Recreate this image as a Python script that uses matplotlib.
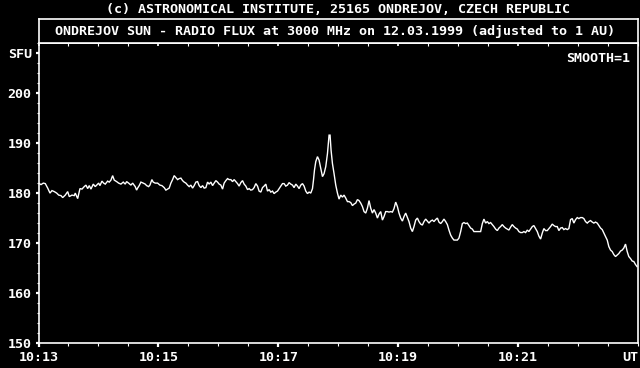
import matplotlib
matplotlib.use("Agg")
import matplotlib.pyplot as plt
from matplotlib.ticker import MultipleLocator, FixedLocator

# ---- data (seconds after 10:13:00 UT, flux in SFU) ----
seconds = [0, 2.5, 4.8, 6.8, 9.2, 11.5, 13.5, 15.8, 18.2, 20.2, 22.5, 24.2, 26.8, 29.2, 30.8,
           33.5, 35.8, 36.8, 39.2, 41.5, 43.5, 45.8, 47.5, 49.2, 50.8, 52.5, 54.8, 56.8, 58.2,
           60.2, 61.5, 63.5, 65.2, 66.8, 69.2, 70.8, 72.5, 74.2, 75.8, 78.2, 80.2, 82.5, 84.8,
           86.8, 88.2, 90.2, 92.5, 94.2, 96.8, 98.2, 99.2, 100.8, 102.5, 104.8, 106.8, 108.2,
           110.2, 111.5, 113.5, 114.8, 116.8, 119.2, 121.5, 123.5, 125.8, 127.5, 129.2, 130.8,
           132.5, 134.2, 135.8, 137.5, 139.2, 140.8, 142.5, 144.2, 145.8, 147.5, 149.2, 150.8,
           152.5, 154.2, 155.8, 157.5, 159.2, 160.8, 162.5, 164.2, 165.8, 167.5, 169.2, 170.8,
           172.5, 174.2, 175.8, 177.5, 179.2, 180.8, 182.5, 184.2, 185.8, 187.5, 189.2, 190.8,
           192.5, 194.2, 195.8, 197.5, 199.2, 200.8, 202.5, 204.2, 205.8, 207.5, 209.2, 210.8,
           212.5, 214.2, 215.8, 217.5, 219.2, 220.8, 222.5, 224.2, 225.8, 227.5, 229.2, 230.8,
           232.5, 234.2, 235.8, 237.5, 239.2, 240.8, 242.5, 244.2, 245.8, 247.5, 249.2, 250.8,
           252.5, 254.2, 255.8, 257.5, 259.2, 260.8, 262.5, 264.2, 265.8, 267.5, 269.2, 270.8,
           272.5, 274.2, 275.2, 276.2, 277.5, 279.2, 280.8, 282.5, 284.2, 285.8, 287.5, 289.2,
           290.8, 291.8, 292.8, 294.2, 295.8, 297.5, 299.2, 300.8, 302.5, 304.2, 305.8, 307.5,
           309.2, 310.8, 312.5, 314.2, 315.8, 317.5, 319.2, 320.8, 322.5, 324.2, 325.8, 327.5,
           329.2, 330.8, 332.5, 334.2, 335.8, 337.5, 339.2, 340.8, 342.5, 344.2, 345.8, 347.5,
           349.2, 350.8, 352.5, 354.2, 355.8, 357.5, 359.2, 360.8, 362.5, 364.2, 365.8, 367.5,
           369.2, 370.8, 372.5, 374.2, 375.8, 377.5, 379.2, 380.8, 382.5, 384.2, 385.8, 387.5,
           389.2, 390.8, 392.5, 394.2, 395.8, 397.5, 399.2, 400.8, 402.5, 404.2, 405.8, 407.5,
           409.2, 410.8, 412.5, 414.2, 415.8, 417.5, 419.2, 420.8, 422.5, 424.2, 425.8, 427.5,
           429.2, 430.8, 432.5, 434.2, 435.8, 437.5, 439.2, 440.8, 442.5, 444.2, 445.8, 447.5,
           449.2, 450.8, 452.5, 454.2, 455.8, 457.5, 459.2, 460.8, 462.5, 464.2, 465.8, 467.5,
           469.2, 470.8, 472.5, 474.2, 475.8, 477.5, 479.2, 480.8, 482.5, 484.2, 485.8, 487.5,
           489.2, 490.8, 492.5, 494.2, 495.8, 497.5, 499.2, 500.8, 502.5, 504.2, 505.8, 507.5,
           509.2, 510.8, 512.5, 514.2, 515.8, 517.5, 519.2, 520.8, 522.5, 524.2, 525.8, 527.5,
           529.2, 530.8, 532.5, 534.2, 535.8, 537.5, 539.2, 540.8, 542.5, 544.2, 545.8, 547.5,
           549.2, 550.8, 552.5, 554.2, 555.8, 557.5, 559.2, 560.8, 562.5, 564.2, 565.8, 567.5,
           569.2, 570.8, 572.5, 574.2, 575.8, 577.5, 579.2, 580.8, 582.5, 584.2, 585.8, 587.5,
           589.2, 590.8, 592.5, 594.2, 595.8, 597.5, 599.0]

sfu = [181.9, 181.6, 181.9, 181.8, 180.9, 179.9, 180.4, 180.2, 179.9, 179.5, 179.4, 179.0, 179.5,
       180.2, 179.2, 179.5, 179.4, 179.9, 178.8, 180.8, 180.7, 181.2, 181.5, 180.8, 181.4, 180.7,
       181.7, 181.2, 181.5, 181.9, 181.4, 182.3, 181.9, 181.7, 182.3, 182.1, 182.5, 183.4, 182.5,
       182.2, 181.9, 181.7, 182.1, 181.7, 182.2, 181.9, 181.5, 181.9, 181.2, 180.5, 180.9, 181.4,
       182.1, 181.9, 181.7, 181.4, 181.2, 181.5, 182.6, 182.1, 181.9, 181.9, 181.5, 181.4, 181.0,
       180.5, 180.7, 180.9, 181.9, 182.6, 183.4, 183.0, 182.6, 182.8, 182.9, 182.4, 182.1, 181.9,
       181.5, 181.2, 181.5, 180.9, 181.4, 182.1, 182.2, 181.4, 181.0, 181.4, 180.9, 181.0, 182.1,
       181.7, 182.1, 181.4, 181.9, 182.4, 182.1, 181.7, 181.5, 180.7, 181.9, 182.4, 182.8, 182.6,
       182.6, 182.2, 182.6, 182.2, 181.8, 181.3, 182.0, 182.4, 181.7, 181.3, 180.6, 180.8, 180.5,
       180.6, 181.0, 181.8, 181.3, 180.3, 180.1, 181.0, 181.3, 181.7, 180.3, 180.6, 180.1, 180.3,
       179.8, 180.1, 180.3, 180.8, 181.3, 181.8, 181.8, 181.3, 181.5, 182.0, 181.7, 181.5, 181.0,
       181.7, 181.3, 180.8, 181.5, 181.8, 181.3, 180.3, 179.8, 180.1, 179.9, 180.8, 182.5, 184.5,
       186.2, 187.2, 186.5, 184.9, 183.2, 183.8, 185.2, 187.8, 191.5, 191.5, 188.5, 185.8, 183.8,
       181.5, 179.9, 178.7, 179.5, 179.1, 179.5, 178.9, 178.2, 178.2, 178.0, 177.4, 177.7, 177.9,
       178.6, 178.4, 177.9, 177.2, 176.2, 175.9, 176.9, 178.4, 176.9, 175.9, 176.6, 175.9, 174.9,
       175.7, 176.2, 174.5, 175.2, 176.2, 176.2, 176.1, 176.2, 176.1, 176.8, 178.1, 177.2, 175.9,
       174.9, 174.3, 175.2, 175.9, 175.0, 174.2, 172.9, 172.2, 173.2, 174.5, 174.9, 174.2, 173.7,
       173.5, 174.2, 174.7, 174.3, 173.9, 174.3, 174.5, 174.2, 174.6, 174.9, 174.1, 173.8, 174.2,
       174.7, 174.2, 173.6, 172.5, 171.5, 170.9, 170.5, 170.5, 170.5, 170.9, 172.2, 173.8, 174.0,
       173.8, 173.9, 173.4, 172.9, 172.7, 172.2, 172.2, 172.2, 172.2, 172.2, 173.8, 174.7, 173.9,
       174.2, 173.8, 174.0, 173.6, 173.2, 172.7, 172.4, 172.9, 173.2, 173.6, 173.2, 172.9, 172.7,
       172.5, 173.1, 173.6, 173.2, 172.9, 172.7, 172.2, 172.0, 172.0, 172.2, 172.0, 172.5, 172.2,
       172.7, 173.2, 173.4, 172.8, 172.2, 171.3, 170.7, 171.9, 172.8, 172.4, 172.4, 172.8, 173.2,
       173.7, 173.4, 173.2, 173.2, 172.4, 172.9, 173.0, 172.6, 172.8, 172.6, 172.8, 174.6, 174.8,
       173.9, 174.6, 175.0, 174.8, 175.0, 175.0, 174.8, 174.2, 173.9, 174.2, 174.4, 174.1, 173.9,
       174.1, 173.9, 173.4, 172.9, 172.6, 171.9, 171.2, 170.5, 169.2, 168.5, 168.2, 167.6, 167.2,
       167.5, 167.8, 168.3, 168.5, 168.9, 169.7, 168.2, 167.2, 166.8, 166.3, 166.2, 165.6, 165.2]

time_labels = ["10:13", "10:15", "10:17", "10:19", "10:21"]
y_values = [150, 160, 170, 180, 190, 200]
unit_label = "SFU"
unit_level = 208
top_title = "(c) ASTRONOMICAL INSTITUTE, 25165 ONDREJOV, CZECH REPUBLIC"
box_title = "ONDREJOV SUN - RADIO FLUX at 3000 MHz on 12.03.1999 (adjusted to 1 AU)"
smooth_text = "SMOOTH=1"

# ---- figure ----
W, H = 640, 368
FONT = dict(family="DejaVu Sans Mono", size=9.6, weight="bold", color="white")

fig = plt.figure(figsize=(W / 100, H / 100), dpi=100, facecolor="black")

ax_l, ax_r = 38.5, 638.0
ax_b, ax_t = 342.5, 42.7
ax = fig.add_axes([ax_l / W, 1 - ax_b / H, (ax_r - ax_l) / W, (ax_b - ax_t) / H])
ax.set_facecolor("black")

ax.plot(seconds, sfu, color="white", lw=1.0, solid_joinstyle="miter")

ax.set_xlim(0, 600)
ax.set_ylim(150, 210)

for s in ax.spines.values():
    s.set_color("white")
    s.set_linewidth(1.2)

# x ticks
major_x = [i * 120 for i in range(len(time_labels))]
ax.set_xticks(major_x)
ax.set_xticklabels(time_labels, fontdict=FONT)
ax.xaxis.set_minor_locator(MultipleLocator(30))
ax.tick_params(axis="x", which="major", direction="out", length=3, width=1.6,
               color="white", pad=3)
ax.tick_params(axis="x", which="minor", direction="out", length=2.2, width=0.8,
               color="white")

# y ticks
ax.set_yticks(y_values + [unit_level])
ax.set_yticklabels([str(v) for v in y_values] + [unit_label], fontdict=FONT)
ax.yaxis.set_minor_locator(MultipleLocator(2))
ax.tick_params(axis="y", which="major", direction="out", length=2.4, width=1.6,
               color="white", pad=2.5)
ax.tick_params(axis="y", which="minor", direction="out", length=1.4, width=0.8,
               color="white")

# top inward ticks on separator line
sec = ax.secondary_xaxis("top")
sec.set_xticks(major_x)
sec.xaxis.set_minor_locator(MultipleLocator(30))
sec.tick_params(axis="x", which="major", direction="in", length=2.5, width=1.2,
                color="white", labeltop=False)
sec.tick_params(axis="x", which="minor", direction="in", length=2.0, width=0.8,
                color="white", labeltop=False)
sec.spines["top"].set_color("white")
sec.spines["top"].set_linewidth(1.2)

# UT label at right end
ax.text(1.0, -0.028, "UT", transform=ax.transAxes, ha="right", va="top", fontdict=FONT)

# title band
band_top = 19.0
band = fig.add_axes([ax_l / W, 1 - ax_t / H, (ax_r - ax_l) / W, (ax_t - band_top) / H])
band.set_facecolor("black")
band.set_xticks([])
band.set_yticks([])
for s in band.spines.values():
    s.set_color("white")
    s.set_linewidth(1.2)
band.text(55 / W, 1 - 31.5 / H, box_title, transform=fig.transFigure,
          ha="left", va="center", fontdict=FONT)

fig.text(338 / W, 1 - 9.5 / H, top_title, ha="center", va="center", fontdict=FONT)
fig.text(630 / W, 1 - 59 / H, smooth_text, ha="right", va="center", fontdict=FONT)

fig.savefig("out.png", dpi=100, facecolor="black")
